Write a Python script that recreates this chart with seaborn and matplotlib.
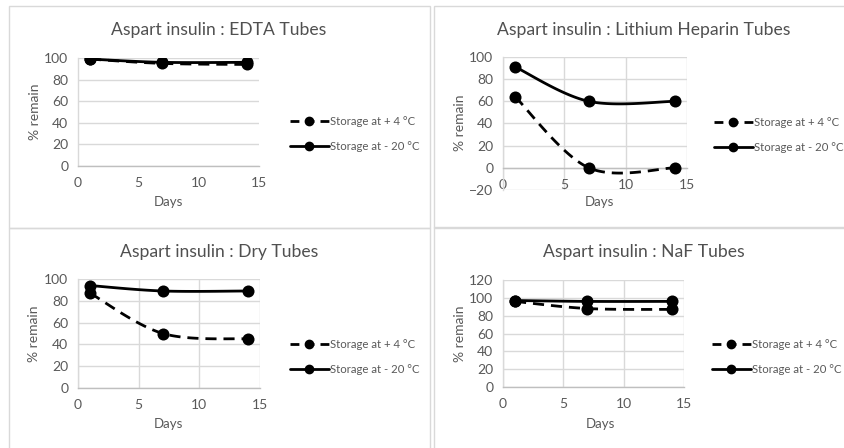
import numpy as np
import pandas as pd
import matplotlib
matplotlib.use("Agg")
import matplotlib.pyplot as plt
from matplotlib.lines import Line2D
from matplotlib.patches import Rectangle
import seaborn as sns

# ---- data: % of aspart insulin remaining after storage ----
days = [1, 7, 14]
series_labels = ["Storage at + 4 °C", "Storage at - 20 °C"]

edta_plus4 = [99, 95, 94]
edta_minus20 = [99, 96, 96]
lihep_plus4 = [64, 0, 0]
lihep_minus20 = [91, 60, 60]
dry_plus4 = [87, 50, 45]
dry_minus20 = [94, 89, 89]
naf_plus4 = [96, 88, 87]
naf_minus20 = [97, 96, 96]

titles = [
    "Aspart insulin : EDTA Tubes",
    "Aspart insulin : Lithium Heparin Tubes",
    "Aspart insulin : Dry Tubes",
    "Aspart insulin : NaF Tubes",
]
x_ticks = [0, 5, 10, 15]
y_ticks_list = [
    [0, 20, 40, 60, 80, 100],
    [-20, 0, 20, 40, 60, 80, 100],
    [0, 20, 40, 60, 80, 100],
    [0, 20, 40, 60, 80, 100, 120],
]

sns.set_theme(style="white")
plt.rcParams["font.family"] = ["Lato", "DejaVu Sans"]

W, H = 845, 448
fig = plt.figure(figsize=(W / 100, H / 100), dpi=100)
fig.patch.set_facecolor("white")

GRAY_TXT = "#595959"
GRID = "#d9d9d9"


def fx(x):
    return x / W


def fy(y):
    return 1 - y / H


def smooth(xs, ys, n=60):
    """Bezier smoothing between consecutive points (spreadsheet-style)."""
    p = np.column_stack([xs, ys]).astype(float)
    ext = np.vstack([p[0], p, p[-1]])
    out = []
    t = np.linspace(0, 1, n)[:, None]
    for i in range(len(p) - 1):
        p0, p1, p2, p3 = ext[i], ext[i + 1], ext[i + 2], ext[i + 3]
        c1 = p1 + (p2 - p0) / 6
        c2 = p2 - (p3 - p1) / 6
        seg = ((1 - t) ** 3) * p1 + 3 * ((1 - t) ** 2) * t * c1 \
            + 3 * (1 - t) * t ** 2 * c2 + t ** 3 * p2
        out.append(seg if i == 0 else seg[1:])
    return np.vstack(out)


# panel frames (left, top, right, bottom) in pixels
frames = [(9, 6, 430, 228), (434, 6, 850, 228),
          (9, 228, 430, 455), (434, 227, 850, 455)]
# plot areas (left, top, right, bottom) in pixels
areas = [(78, 58, 259, 166), (503, 57, 687, 190),
         (78, 279, 260, 388), (503, 280, 684, 387)]
title_pos = [(219, 30), (644, 30), (219, 252), (644, 252)]
ylabel_pos = [(35, 112), (460, 123), (34, 334), (460, 334)]
xlabel_pos = [(168, 202), (599, 202), (168, 424), (600, 424)]
legend_pos = [(290, 134), (714, 135), (290, 357), (712, 357)]
vgrid = [False, True, True, True]

data_sets = [
    (edta_plus4, edta_minus20),
    (lihep_plus4, lihep_minus20),
    (dry_plus4, dry_minus20),
    (naf_plus4, naf_minus20),
]

DASH = (0, (4, 2.5))
LEGEND_DASH = (0, (3.2, 2.2))

for k in range(4):
    l, t_, r, b = frames[k]
    fig.patches.append(Rectangle((fx(l), fy(b)), fx(r - l), (b - t_) / H,
                                 transform=fig.transFigure, fill=False,
                                 edgecolor=GRID, linewidth=1.0, zorder=0))

    al, at, ar, ab = areas[k]
    ax = fig.add_axes([fx(al), fy(ab), fx(ar - al), (ab - at) / H])
    ax.set_facecolor("none")

    plus4, minus20 = data_sets[k]
    for vals, style in ((plus4, DASH), (minus20, "-")):
        curve = smooth(days, vals)
        cdf = pd.DataFrame({"Days": curve[:, 0], "remain": curve[:, 1]})
        sns.lineplot(data=cdf, x="Days", y="remain", sort=False,
                     estimator=None, ax=ax, color="black", linewidth=2.0,
                     linestyle=style, zorder=3)
        pdf = pd.DataFrame({"Days": days, "remain": vals})
        sns.scatterplot(data=pdf, x="Days", y="remain", ax=ax,
                        color="black", s=75, edgecolor="black",
                        linewidth=0, zorder=4)

    yt = y_ticks_list[k]
    ax.set_xlim(0, 15)
    ax.set_ylim(yt[0], yt[-1])
    ax.set_xticks(x_ticks)
    ax.set_yticks(yt)
    ax.set_xlabel("")
    ax.set_ylabel("")
    ax.grid(axis="y", color=GRID, linewidth=1.0)
    if vgrid[k]:
        ax.grid(axis="x", color=GRID, linewidth=1.0)
    ax.set_axisbelow(True)
    for s in ("top", "right"):
        ax.spines[s].set_visible(False)
    ax.spines["left"].set_color(GRID)
    ax.spines["left"].set_linewidth(1.0)
    ax.spines["bottom"].set_color("#bfbfbf")
    ax.spines["bottom"].set_linewidth(1.0)
    if yt[0] < 0:
        ax.spines["bottom"].set_position(("data", 0))
    ax.tick_params(axis="both", length=0, labelsize=10, labelcolor=GRAY_TXT)
    ax.tick_params(axis="x", pad=8)
    ax.tick_params(axis="y", pad=7)

    fig.text(fx(title_pos[k][0]), fy(title_pos[k][1]), titles[k],
             ha="center", va="center", fontsize=12.6, color="#505050")
    fig.text(fx(ylabel_pos[k][0]), fy(ylabel_pos[k][1]), "% remain",
             ha="center", va="center", rotation=90, fontsize=10,
             color=GRAY_TXT)
    fig.text(fx(xlabel_pos[k][0]), fy(xlabel_pos[k][1]), "Days",
             ha="center", va="center", fontsize=9.5, color=GRAY_TXT)

    handles = [
        Line2D([], [], color="black", linewidth=2.0, linestyle=LEGEND_DASH,
               marker="o", markersize=6),
        Line2D([], [], color="black", linewidth=2.0, linestyle="-",
               marker="o", markersize=6),
    ]
    fig.legend(handles, series_labels, loc="center left",
               bbox_to_anchor=(fx(legend_pos[k][0]), fy(legend_pos[k][1])),
               frameon=False, fontsize=8.2, labelcolor=GRAY_TXT,
               handlelength=3.4, handletextpad=0.1, labelspacing=1.25,
               borderpad=0, borderaxespad=0)

fig.savefig("out.png", dpi=100, facecolor="white")
